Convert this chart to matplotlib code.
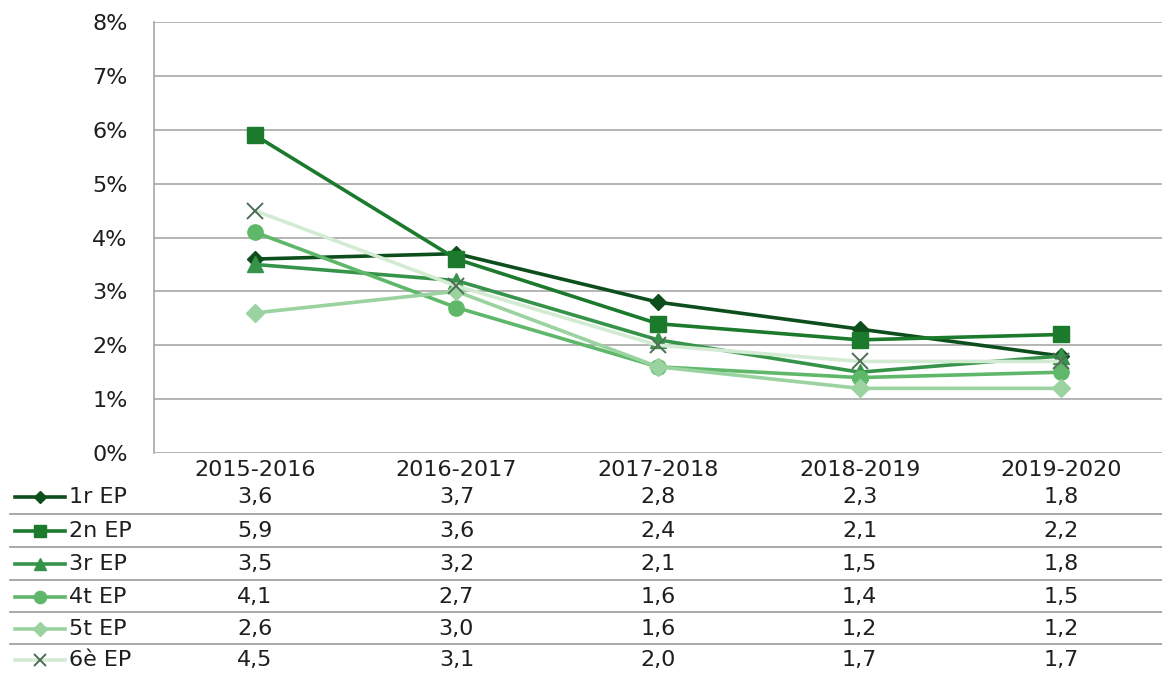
import matplotlib.pyplot as plt
from matplotlib.lines import Line2D

plt.rcParams['font.family'] = ['DejaVu Sans']

# Cursos i sèries (percentatge per curs)
cursos = ['2015-2016', '2016-2017', '2017-2018', '2018-2019', '2019-2020']
series = ['1r EP', '2n EP', '3r EP', '4t EP', '5t EP', '6è EP']
ep1 = [3.6, 3.7, 2.8, 2.3, 1.8]
ep2 = [5.9, 3.6, 2.4, 2.1, 2.2]
ep3 = [3.5, 3.2, 2.1, 1.5, 1.8]
ep4 = [4.1, 2.7, 1.6, 1.4, 1.5]
ep5 = [2.6, 3.0, 1.6, 1.2, 1.2]
ep6 = [4.5, 3.1, 2.0, 1.7, 1.7]
valors = [ep1, ep2, ep3, ep4, ep5, ep6]

estils = [
    dict(color='#0d4f1c', marker='D', markersize=8, mfc='#0d4f1c', mec='#0d4f1c'),
    dict(color='#1c7a2c', marker='s', markersize=11, mfc='#1c7a2c', mec='#1c7a2c'),
    dict(color='#36934a', marker='^', markersize=11, mfc='#36934a', mec='#36934a'),
    dict(color='#5fb86a', marker='o', markersize=11, mfc='#5fb86a', mec='#5fb86a'),
    dict(color='#9ad3a0', marker='D', markersize=9, mfc='#9ad3a0', mec='#9ad3a0'),
    dict(color='#d3ebd3', marker='x', markersize=11, mfc='none', mec='#4f6e55', mew=1.4),
]

FS = 16
TXT = '#1e1e1e'

W, H = 1162, 673
fig = plt.figure(figsize=(W / 100, H / 100), dpi=100)
ax = fig.add_axes([154 / W, (H - 453) / H, (W - 154) / W, (453 - 22) / H])

x = list(range(len(cursos)))
for vals, st in zip(valors, estils):
    ax.plot(x, vals, linewidth=2.6, zorder=3, **st)

ax.set_xlim(-0.5, len(cursos) - 0.5)
ax.set_ylim(0, 8)
ax.set_yticks(range(0, 9))
ax.set_yticklabels([f'{v}%' for v in range(0, 9)], fontsize=FS, color=TXT)
ax.set_xticks([])
ax.grid(axis='y', color='#a8a8a8', linewidth=1.2, zorder=0)
for side in ['top', 'right', 'bottom']:
    ax.spines[side].set_visible(False)
ax.spines['left'].set_color('#a8a8a8')
ax.spines['left'].set_linewidth(1.2)
ax.tick_params(axis='y', length=0, pad=19)

# Taula de dades sota el gràfic
def fy(py):
    return 1 - py / H

def fx(px):
    return px / W

to_fig = ax.transData + fig.transFigure.inverted()
col_x = [to_fig.transform((xi, 0))[0] for xi in x]

header_y = 470
row_y = [497, 531, 564, 597, 629, 660]
sep_y = [514, 547, 580, 612, 644]

for cx, curs in zip(col_x, cursos):
    fig.text(cx, fy(header_y), curs, ha='center', va='center', fontsize=FS, color=TXT)

for i, (nom, vals, st) in enumerate(zip(series, valors, estils)):
    y = fy(row_y[i])
    seg = Line2D([fx(15), fx(65)], [y, y], transform=fig.transFigure, color=st['color'],
                 linewidth=2.6)
    fig.add_artist(seg)
    mk = Line2D([fx(40)], [y], transform=fig.transFigure, marker=st['marker'],
                markersize=st['markersize'] * 0.8, mfc=st['mfc'], mec=st['mec'],
                mew=st.get('mew', 1.0), linestyle='none')
    fig.add_artist(mk)
    fig.text(fx(69), y, nom, ha='left', va='center', fontsize=FS, color=TXT)
    for cx, v in zip(col_x, vals):
        fig.text(cx, y, f'{v:.1f}'.replace('.', ','), ha='center', va='center',
                 fontsize=FS, color=TXT)

for sy in sep_y:
    fig.add_artist(Line2D([fx(10), fx(W)], [fy(sy), fy(sy)], transform=fig.transFigure,
                          color='#9a9a9a', linewidth=1.2))

fig.savefig('out.png', dpi=100)
